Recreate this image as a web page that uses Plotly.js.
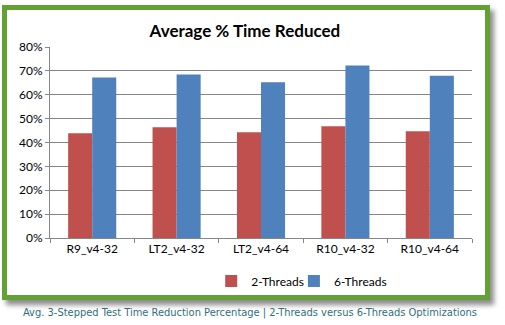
<!DOCTYPE html>
<html><head><meta charset="utf-8">
<script src="https://cdn.plot.ly/plotly-3.0.1.min.js"></script>
<style>
html,body{margin:0;padding:0;background:#fff;width:505px;height:325px;overflow:hidden;}
#frame{position:absolute;left:2px;top:5px;width:478px;height:285px;border:5px solid #64a135;background:#fff;box-shadow:4px 5px 5px rgba(0,0,0,0.45);}
#chart{position:absolute;left:0;top:0;width:505px;height:325px;}
</style></head>
<body>
<div id="frame"></div>
<div id="chart"></div>
<script>
const categories = ["R9_v4-32", "LT2_v4-32", "LT2_v4-64", "R10_v4-32", "R10_v4-64"];
const twoThreads = [0.439, 0.464, 0.443, 0.468, 0.447];
const sixThreads = [0.672, 0.685, 0.652, 0.723, 0.680];
const yTicks = [0, 0.1, 0.2, 0.3, 0.4, 0.5, 0.6, 0.7, 0.8];
const yTickLabels = ["0%", "10%", "20%", "30%", "40%", "50%", "60%", "70%", "80%"];

const font = "Lato, 'Open Sans', sans-serif";
const data = [
  {type: "bar", name: "2-Threads", x: categories, y: twoThreads, marker: {color: "#c0504d"}, legend: "legend"},
  {type: "bar", name: "6-Threads", x: categories, y: sixThreads, marker: {color: "#4f81bd"}, legend: "legend2"}
];
const legendBase = {orientation: "h", xanchor: "left", y: -0.225, yanchor: "middle",
  font: {family: font, size: 12, color: "#000"}, itemwidth: 30, bgcolor: "rgba(0,0,0,0)", borderwidth: 0};
const layout = {
  width: 505, height: 325,
  paper_bgcolor: "rgba(0,0,0,0)", plot_bgcolor: "rgba(0,0,0,0)",
  margin: {l: 50, r: 33, t: 47, b: 87},
  barmode: "group", bargap: 0.43, bargroupgap: 0,
  title: {text: "<b>Average % Time Reduced</b>", x: 0.485, xanchor: "center", y: 0.905, yanchor: "middle",
          font: {family: font, size: 17, color: "#000"}},
  xaxis: {type: "category", tickson: "boundaries", ticks: "outside", ticklen: 4, tickcolor: "#868686",
          showline: true, linecolor: "#868686", linewidth: 1, showgrid: false,
          tickfont: {family: font, size: 12, color: "#000"}, fixedrange: true},
  yaxis: {range: [0, 0.8], tickvals: yTicks, ticktext: yTickLabels, ticks: "outside", ticklen: 4,
          tickcolor: "#868686", showline: true, linecolor: "#868686", linewidth: 1,
          showgrid: true, gridcolor: "#868686", gridwidth: 1, zeroline: false,
          tickfont: {family: font, size: 12, color: "#000"}, fixedrange: true},
  legend: Object.assign({}, legendBase, {x: 0.382}),
  legend2: Object.assign({}, legendBase, {x: 0.578}),
  annotations: [{text: "Avg. 3-Stepped Test Time Reduction Percentage | 2-Threads versus 6-Threads Optimizations",
                 xref: "paper", yref: "paper", x: 0.474, y: -0.39, xanchor: "center", yanchor: "middle",
                 showarrow: false, font: {family: "'Liberation Sans Narrow', 'DejaVu Sans Condensed', sans-serif", size: 11, color: "#2f6e7c"}}],
  showlegend: true
};
Plotly.newPlot("chart", data, layout, {displayModeBar: false, staticPlot: true});
</script>
</body></html>
